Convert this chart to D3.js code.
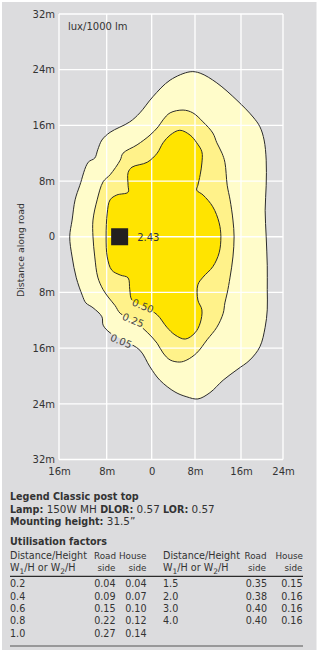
<!DOCTYPE html>
<html lang="en">
<head>
<meta charset="UTF-8">
<title>Legend Classic post top - isolux diagram</title>
<script src="https://d3js.org/d3.v7.min.js"></script>
<style>
  body { margin: 0; background: #fff; }
  svg { display: block; font-family: "DejaVu Sans", sans-serif; }
</style>
</head>
<body>
<div id="chart"></div>
<script>
// axis ticks, metres
const xTicks = [-16, -8, 0, 8, 16, 24];
const yTicks = [32, 24, 16, 8, 0, -8, -16, -24, -32];

// isolux contours (lux/1000 lm), points [across road, along road] in metres
const contourLevels = ["0.05", "0.25", "0.50"];
const contour005 = [
  [7.1, 23.7], [8.9, 23.5], [11.8, 22.1], [15.3, 19.6], [18.3, 17.2], [19.6, 15.8],
  [20.4, 13.9], [20.8, 11.0], [20.8, 7.4], [20.6, 3.8], [20.8, 0], [21.0, -4.1],
  [21.0, -7.6], [21.0, -10.5], [20.6, -13.0], [19.6, -15.8], [17.7, -17.7], [15.3, -19.1],
  [12.9, -20.6], [10.6, -22.4], [8.5, -23.3], [6.5, -23.0], [4.3, -22.3], [1.5, -20.6],
  [-0.3, -18.7], [-2.1, -16.3], [-4.7, -15.0], [-7.4, -13.8], [-8.6, -12.7], [-8.8, -11.5],
  [-10.3, -10.2], [-11.5, -9.5], [-12.1, -8.4], [-13.1, -5.9], [-13.8, -2.9], [-14.2, 0],
  [-13.8, 2.4], [-13.3, 5.3], [-12.5, 7.4], [-11.1, 10.7], [-10.0, 11.3], [-9.5, 12.5],
  [-8.8, 13.9], [-7.4, 15.0], [-3.9, 16.5], [-2.1, 17.8], [0.2, 20.1], [3.4, 22.5]
];
const contour025 = [
  [5.8, 18.2], [7.6, 17.8], [9.4, 16.5], [11.1, 14.9], [11.8, 13.5], [12.7, 12.0],
  [13.2, 10.7], [13.6, 7.4], [14.1, 5.3], [14.6, 2.4], [14.8, 0], [14.6, -2.9],
  [14.1, -5.8], [13.6, -8.1], [13.2, -9.5], [12.9, -11.0], [11.8, -13.0], [10.1, -14.8],
  [8.3, -16.7], [6.5, -17.7], [5.2, -18.0], [3.4, -17.7], [2.1, -16.7], [1.0, -15.3],
  [-0.7, -13.8], [-3.0, -12.2], [-5.6, -11.0], [-6.5, -9.9], [-7.6, -8.8], [-8.6, -7.6],
  [-9.5, -5.8], [-10.0, -2.9], [-10.3, 0], [-10.3, 2.4], [-9.6, 5.3], [-8.6, 7.9],
  [-7.4, 8.9], [-5.6, 11.0], [-5.1, 12.0], [-2.6, 13.2], [-0.3, 14.6], [1.2, 15.8],
  [2.1, 16.8], [3.4, 17.8]
];
const contour050 = [
  [5.2, 15.3], [7.1, 14.6], [8.3, 13.5], [9.2, 12.2], [9.2, 10.6], [8.9, 8.9],
  [8.5, 7.4], [8.3, 6.7], [9.4, 6.0], [11.1, 4.3], [12.2, 2.0], [12.5, 0],
  [12.2, -2.3], [11.1, -4.3], [9.4, -5.8], [8.5, -6.9], [8.5, -9.1], [9.2, -10.5],
  [8.9, -12.4], [8.0, -13.8], [6.2, -14.7], [4.3, -14.1], [2.8, -13.0], [1.0, -11.2],
  [-1.2, -10.1], [-3.5, -9.1], [-3.9, -7.6], [-4.2, -5.9], [-5.6, -5.5], [-7.1, -4.8],
  [-7.9, -2.9], [-8.1, 0], [-7.9, 3.4], [-7.4, 5.3], [-6.2, 6.0], [-4.2, 6.4],
  [-4.2, 7.4], [-4.2, 9.2], [-3.5, 10.0], [-0.8, 10.7], [1.0, 12.0], [2.1, 13.5],
  [3.4, 14.6]
];
const contourLabelAt = [[-5.45, -15.0], [-3.3, -12.0], [-1.55, -9.95]];

const lampAt = [-5.7, 0];
const peakValue = "2.43";

// utilisation factors
const ufDist1 = ["0.2", "0.4", "0.6", "0.8", "1.0"];
const ufRoad1 = ["0.04", "0.09", "0.15", "0.22", "0.27"];
const ufHouse1 = ["0.04", "0.07", "0.10", "0.12", "0.14"];
const ufDist2 = ["1.5", "2.0", "3.0", "4.0"];
const ufRoad2 = ["0.35", "0.38", "0.40", "0.40"];
const ufHouse2 = ["0.15", "0.16", "0.16", "0.16"];

const W = 318, H = 651;
const ink = '#333';
const fs = 9.6;

const svg = d3.select('#chart').append('svg')
    .attr('width', W)
    .attr('height', H);

svg.append('rect')
    .attr('x', 2).attr('y', 2)
    .attr('width', 314.5).attr('height', 648)
    .attr('fill', '#dcdcde');

// the original grid is not evenly spaced, so the x scale is piecewise
const x = d3.scaleLinear().domain(xTicks).range([59, 106.7, 151.7, 195, 241, 283]);
const y = d3.scaleLinear().domain([32, -32]).range([14, 459.5]);

const line = d3.line()
    .x(d => x(d[0]))
    .y(d => y(d[1]))
    .curve(d3.curveCatmullRomClosed.alpha(0.5));

const contours = [contour005, contour025, contour050];
const fills = ['#fffcca', '#fff28a', '#ffe400'];

svg.selectAll('path.band')
    .data(contours)
    .enter()
    .append('path')
    .attr('class', 'band')
    .attr('d', line)
    .attr('fill', (d, i) => fills[i]);

// white grid over the fills
svg.selectAll('line.vgrid')
    .data(xTicks)
    .enter()
    .append('line')
    .attr('x1', d => x(d)).attr('x2', d => x(d))
    .attr('y1', y(32)).attr('y2', y(-32))
    .attr('stroke', '#fff').attr('stroke-width', 1.3);

svg.selectAll('line.hgrid')
    .data(yTicks)
    .enter()
    .append('line')
    .attr('x1', x(-16)).attr('x2', x(24))
    .attr('y1', d => y(d)).attr('y2', d => y(d))
    .attr('stroke', '#fff').attr('stroke-width', 1.3);

// contour labels, measured so the lines can be cut under them
const labels = svg.selectAll('text.clabel')
    .data(contourLevels)
    .enter()
    .append('text')
    .attr('class', 'clabel')
    .attr('transform', (d, i) => `translate(${x(contourLabelAt[i][0])},${y(contourLabelAt[i][1])}) rotate(22)`)
    .attr('text-anchor', 'middle')
    .attr('dy', '0.35em')
    .attr('font-size', 10)
    .attr('fill', '#444')
    .text(d => d);

const mask = svg.append('defs').append('mask').attr('id', 'cut');
mask.append('rect').attr('width', W).attr('height', H).attr('fill', '#fff');
labels.each(function(d, i) {
    const b = this.getBBox();
    mask.append('rect')
        .attr('transform', d3.select(this).attr('transform'))
        .attr('x', b.x - 1).attr('y', b.y + 1)
        .attr('width', b.width + 2).attr('height', b.height - 2)
        .attr('fill', '#000');
});

svg.append('g')
    .attr('mask', 'url(#cut)')
    .selectAll('path')
    .data(contours)
    .enter()
    .append('path')
    .attr('d', line)
    .attr('fill', 'none')
    .attr('stroke', '#2b2b2b')
    .attr('stroke-width', 1);

labels.raise();

// lamp position and peak value
svg.append('rect')
    .attr('x', x(lampAt[0]) - 8.5).attr('y', y(lampAt[1]) - 8.5)
    .attr('width', 17).attr('height', 17)
    .attr('fill', '#231f20');

svg.append('text')
    .attr('x', x(lampAt[0]) + 17.5)
    .attr('y', y(lampAt[1]) + 4)
    .attr('font-size', 10)
    .attr('fill', ink)
    .text(peakValue);

svg.append('text')
    .attr('x', 68).attr('y', 30)
    .attr('font-size', 10)
    .attr('fill', ink)
    .text('lux/1000 lm');

// axes
const mLabel = d => d === 0 ? '0' : Math.abs(d) + 'm';

const yAxis = svg.append('g')
    .attr('transform', `translate(${x(-16)},0)`)
    .call(d3.axisLeft(y).tickValues(yTicks).tickSize(0).tickPadding(4).tickFormat(mLabel));
const xAxis = svg.append('g')
    .attr('transform', `translate(0,${y(-32)})`)
    .call(d3.axisBottom(x).tickValues(xTicks).tickSize(0).tickPadding(8.5).tickFormat(mLabel));

[yAxis, xAxis].forEach(g => {
    g.select('.domain').remove();
    g.attr('font-family', null).attr('font-size', null);
    g.selectAll('text').attr('font-size', 10).attr('fill', ink);
});

svg.append('text')
    .attr('transform', 'translate(24,250) rotate(-90)')
    .attr('text-anchor', 'middle')
    .attr('font-size', 9.4)
    .attr('fill', ink)
    .text('Distance along road');

// lamp details: bold labels, slightly larger regular values
const info = svg.append('g').attr('font-size', fs).attr('fill', ink);
const reg = 10.4;

info.append('text').attr('x', 10).attr('y', 500)
    .attr('font-weight', 'bold').text('Legend Classic post top');

const lamp = info.append('text').attr('x', 10).attr('y', 513);
lamp.append('tspan').attr('font-weight', 'bold').text('Lamp: ');
lamp.append('tspan').attr('font-size', reg).text('150W MH ');
lamp.append('tspan').attr('font-weight', 'bold').text('DLOR: ');
lamp.append('tspan').attr('font-size', reg).text('0.57 ');
lamp.append('tspan').attr('font-weight', 'bold').text('LOR: ');
lamp.append('tspan').attr('font-size', reg).text('0.57');

const mount = info.append('text').attr('x', 10).attr('y', 525);
mount.append('tspan').attr('font-weight', 'bold').text('Mounting height: ');
mount.append('tspan').attr('font-size', reg).text('31.5\u201D');

info.append('text').attr('x', 10).attr('y', 545)
    .attr('font-weight', 'bold').text('Utilisation factors');

// table
const table = svg.append('g').attr('font-size', fs).attr('fill', ink);

function whLabel(xPos) {
    const t = table.append('text').attr('x', xPos).attr('y', 571);
    t.append('tspan').text('W');
    t.append('tspan').attr('dy', 2.5).attr('font-size', 7.5).text('1');
    t.append('tspan').attr('dy', -2.5).text('/H or W');
    t.append('tspan').attr('dy', 2.5).attr('font-size', 7.5).text('2');
    t.append('tspan').attr('dy', -2.5).text('/H');
}

const headTop = [
    { t: 'Distance/Height', x: 10, a: 'start', s: fs },
    { t: 'Road', x: 116, a: 'end', s: 8.8 },
    { t: 'House', x: 146.5, a: 'end', s: 8.8 },
    { t: 'Distance/Height', x: 163, a: 'start', s: fs },
    { t: 'Road', x: 266.5, a: 'end', s: 8.8 },
    { t: 'House', x: 303, a: 'end', s: 8.8 }
];
table.selectAll('text.h1')
    .data(headTop)
    .enter()
    .append('text')
    .attr('x', d => d.x).attr('y', 559)
    .attr('text-anchor', d => d.a)
    .attr('font-size', d => d.s)
    .text(d => d.t);

whLabel(10);
whLabel(163);
[115.5, 146.5, 266, 302.5].forEach(xp => {
    table.append('text').attr('x', xp).attr('y', 571)
        .attr('text-anchor', 'end').attr('font-size', 8.8).text('side');
});

svg.append('line')
    .attr('x1', 10).attr('x2', 303).attr('y1', 576.3).attr('y2', 576.3)
    .attr('stroke', '#2b2b2b').attr('stroke-width', 1.2);

const rowY = i => 587.3 + i * 12.3;
const cols = [
    { v: ufDist1, x: 10, a: 'start' },
    { v: ufRoad1, x: 115.5, a: 'end' },
    { v: ufHouse1, x: 146.5, a: 'end' },
    { v: ufDist2, x: 163, a: 'start' },
    { v: ufRoad2, x: 267, a: 'end' },
    { v: ufHouse2, x: 302.5, a: 'end' }
];
cols.forEach(c => {
    table.selectAll(null)
        .data(c.v)
        .enter()
        .append('text')
        .attr('x', c.x).attr('y', (d, i) => rowY(i))
        .attr('text-anchor', c.a)
        .text(d => d);
});

svg.append('line')
    .attr('x1', 10).attr('x2', 303).attr('y1', 646).attr('y2', 646)
    .attr('stroke', '#555').attr('stroke-width', 1);
</script>
</body>
</html>
